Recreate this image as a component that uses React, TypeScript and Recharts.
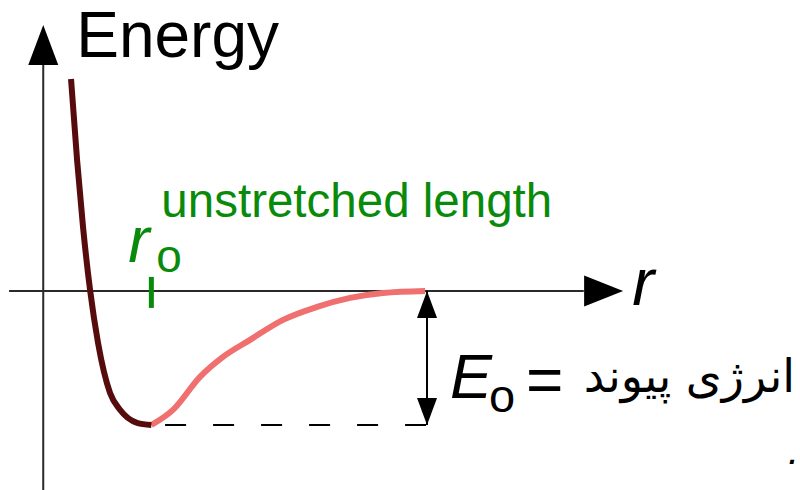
import React from 'react';
import { ComposedChart, Line, XAxis, YAxis, ReferenceLine, ReferenceDot } from 'recharts';

// Potential energy curve (r in units of r0, energy in units of E0)
const repulsiveR = [0.257, 0.313, 0.368, 0.433, 0.507, 0.618, 0.71, 0.868, 1.0];
const repulsiveE = [1.581, 0.976, 0.477, 0.007, -0.388, -0.761, -0.887, -0.984, -1.0];
const attractiveR = [1.0, 1.2, 1.45, 1.663, 1.913, 2.218, 2.533, 2.838, 3.143, 3.532];
const attractiveE = [-1.0, -0.887, -0.641, -0.492, -0.365, -0.216, -0.119, -0.052, -0.015, 0];

const R_DOMAIN = [-0.4, 7.0];
const E_DOMAIN = [-1.485, 2.17];
const R0 = 1.0;
const E0 = -1.0;
const R_BREAK = 3.55;
const H_AXIS = [-0.316, 5.0, 5.364];
const V_AXIS = [-1.485, 1.685, 1.983];

const yLabel = 'Energy';
const xLabel = 'r';
const r0Label = 'unstretched length';
const bondLabel = 'انرژی پیوند';

const repulsive = repulsiveR.map((r, i) => ({ r, E: repulsiveE[i] }));
const attractive = attractiveR.map((r, i) => ({ r, E: attractiveE[i] }));

const FONT = '"Liberation Sans", Arial, sans-serif';
const AXIS = '#2a2a2a';
const GREEN = '#0a8a0a';

const txt = (s: string, dx: number, dy: number, style: any) => (p: any) => (
  <text x={p.cx + dx} y={p.cy + dy} fontFamily={FONT} {...style}>{s}</text>
);

const arrowUp = (p: any) => (
  <polygon points={`${p.cx},${p.cy} ${p.cx - 15},${p.cy + 40} ${p.cx + 15},${p.cy + 40}`} fill="#000" />
);
const arrowRight = (p: any) => (
  <polygon points={`${p.cx},${p.cy} ${p.cx - 39},${p.cy - 15.5} ${p.cx - 39},${p.cy + 15.5}`} fill="#000" />
);
const smallUp = (p: any) => (
  <polygon points={`${p.cx},${p.cy} ${p.cx - 10},${p.cy + 27} ${p.cx + 10},${p.cy + 27}`} fill="#000" />
);
const smallDown = (p: any) => (
  <polygon points={`${p.cx},${p.cy} ${p.cx - 10},${p.cy - 27} ${p.cx + 10},${p.cy - 27}`} fill="#000" />
);
const greenTick = (p: any) => (
  <rect x={p.cx - 2.5} y={p.cy - 14} width={5} height={31} fill={GREEN} />
);

export default function App() {
  return (
    <div style={{ position: 'absolute', left: 0, top: 0, width: 800, height: 490, background: '#fff' }}>
      <ComposedChart width={800} height={490} margin={{ top: 0, right: 0, bottom: 0, left: 0 }}>
        <XAxis type="number" dataKey="r" domain={R_DOMAIN} hide allowDataOverflow />
        <YAxis type="number" dataKey="E" domain={E_DOMAIN} hide allowDataOverflow />

        <ReferenceLine ifOverflow="visible" segment={[{ x: H_AXIS[0], y: 0 }, { x: H_AXIS[1], y: 0 }]} stroke={AXIS} strokeWidth={2} />
        <ReferenceLine ifOverflow="visible" segment={[{ x: 0, y: V_AXIS[0] }, { x: 0, y: V_AXIS[1] }]} stroke={AXIS} strokeWidth={2} />
        <ReferenceDot ifOverflow="visible" x={0} y={V_AXIS[2]} r={1} shape={arrowUp} />
        <ReferenceDot ifOverflow="visible" x={H_AXIS[2]} y={0} r={1} shape={arrowRight} />

        <ReferenceLine ifOverflow="visible" segment={[{ x: 1.127, y: E0 }, { x: R_BREAK, y: E0 }]} stroke="#000" strokeWidth={2} strokeDasharray="21 27" />
        <ReferenceLine ifOverflow="visible" segment={[{ x: R_BREAK, y: 0 }, { x: R_BREAK, y: E0 }]} stroke="#000" strokeWidth={2} />
        <ReferenceDot ifOverflow="visible" x={R_BREAK} y={0} r={1} shape={smallUp} />
        <ReferenceDot ifOverflow="visible" x={R_BREAK} y={E0} r={1} shape={smallDown} />

        <Line data={attractive} dataKey="E" type="monotone" stroke="#f07070" strokeWidth={6} dot={false} activeDot={false} strokeLinecap="butt" isAnimationActive={false} />
        <Line data={repulsive} dataKey="E" type="monotone" stroke="#560c0c" strokeWidth={6} dot={false} activeDot={false} strokeLinecap="butt" isAnimationActive={false} />

        <ReferenceDot ifOverflow="visible" x={R0} y={0} r={1} shape={greenTick} />

        <ReferenceDot ifOverflow="visible" x={0} y={V_AXIS[2]} r={1} shape={txt(yLabel, 33, 32, { fontSize: 64, fill: '#000' })} />
        <ReferenceDot ifOverflow="visible" x={R0} y={0} r={1} shape={txt(r0Label, 10, -74, { fontSize: 47.5, fill: GREEN })} />
        <ReferenceDot ifOverflow="visible" x={R0} y={0} r={1} shape={txt('r', -23, -29, { fontSize: 64, fill: GREEN, fontStyle: 'italic' })} />
        <ReferenceDot ifOverflow="visible" x={R0} y={0} r={1} shape={txt('o', 5, -19, { fontSize: 46, fill: GREEN })} />
        <ReferenceDot ifOverflow="visible" x={H_AXIS[2]} y={0} r={1} shape={txt(xLabel, 9, 14, { fontSize: 66, fill: '#000', fontStyle: 'italic' })} />
        <ReferenceDot ifOverflow="visible" x={R_BREAK} y={E0 / 2} r={1} shape={txt('E', 23, 40, { fontSize: 63, fill: '#000', fontStyle: 'italic' })} />
        <ReferenceDot ifOverflow="visible" x={R_BREAK} y={E0 / 2} r={1} shape={txt('o', 62, 54, { fontSize: 47, fill: '#000' })} />
        <ReferenceDot ifOverflow="visible" x={R_BREAK} y={E0 / 2} r={1} shape={txt('=', 99, 44, { fontSize: 64, fill: '#000' })} />
        <ReferenceDot ifOverflow="visible" x={R_BREAK} y={E0 / 2} r={1} shape={txt(bondLabel, 368, 34, { fontSize: 46, fill: '#000', textAnchor: 'end', fontFamily: '"DejaVu Sans", sans-serif' })} />
        <ReferenceDot ifOverflow="visible" x={R_BREAK} y={E0 / 2} r={1} shape={txt('.', 361, 106, { fontSize: 40, fill: '#000', fontStyle: 'italic' })} />
      </ComposedChart>
    </div>
  );
}
